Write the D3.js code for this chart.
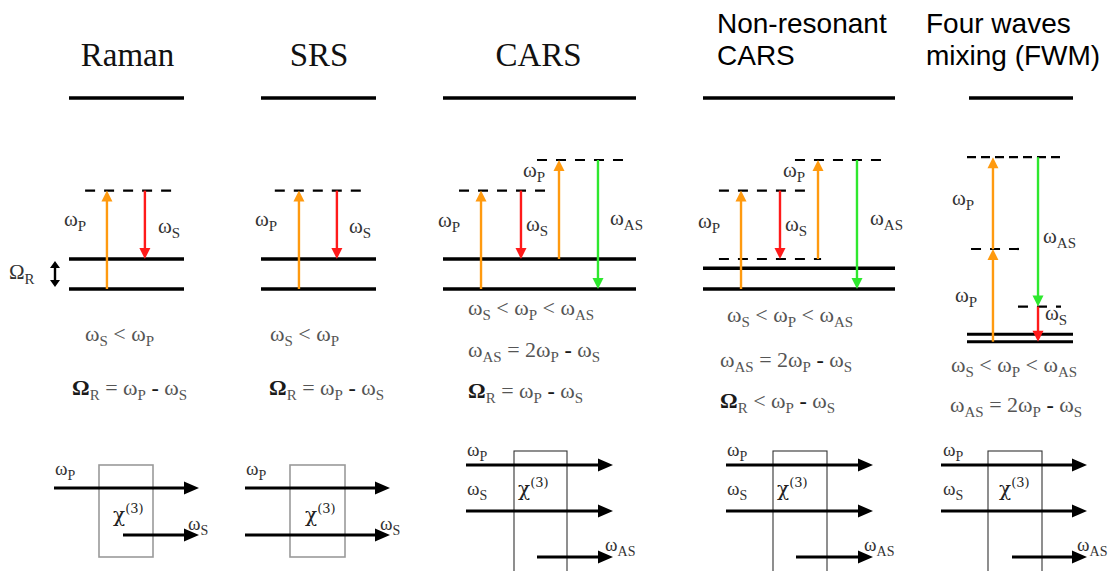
<!DOCTYPE html>
<html>
<head>
<meta charset="utf-8">
<script src="https://cdn.jsdelivr.net/npm/d3@7"></script>
<style>
  body { margin: 0; background: #fff; }
  svg { display: block; }
</style>
</head>
<body>
<div id="chart"></div>
<script>
// ---- data ----
// panel titles
const titles = [['Raman'], ['SRS'], ['CARS'], ['Non-resonant', 'CARS'], ['Four waves', 'mixing (FWM)']];
const titleSans = [false, false, false, true, true];

// energy levels: e = energy in vibrational quanta above ground, x0/x1 = fraction of panel width
const levels = [
  { p: 0, e: 0, dash: false }, { p: 0, e: 1, dash: false }, { p: 0, e: 3.28, dash: true, x0: 0.14, x1: 0.9 },
  { p: 1, e: 0, dash: false }, { p: 1, e: 1, dash: false }, { p: 1, e: 3.28, dash: true, x0: 0.12, x1: 0.89 },
  { p: 2, e: 0, dash: false }, { p: 2, e: 1, dash: false },
  { p: 2, e: 3.28, dash: true, x0: 0.083, x1: 0.539 }, { p: 2, e: 4.3, dash: true, x0: 0.487, x1: 0.933 },
  { p: 3, e: 0, dash: false }, { p: 3, e: 0.69, dash: false },
  { p: 3, e: 1, dash: true, x0: 0.083, x1: 0.615 },
  { p: 3, e: 3.28, dash: true, x0: 0.083, x1: 0.536 }, { p: 3, e: 4.3, dash: true, x0: 0.479, x1: 0.932 },
  { p: 4, e: 0, dash: false, thin: true }, { p: 4, e: 0.25, dash: false, thin: true },
  { p: 4, e: 1.17, dash: true, x0: 0.481, x1: 0.887 },
  { p: 4, e: 3.09, dash: true, x0: 0.038, x1: 0.509 },
  { p: 4, e: 6.15, dash: true, x0: 0, x1: 0.896, dense: true }
];

// transitions: beam, start energy, end energy, x = fraction of panel width
const transitions = [
  { p: 0, beam: 'P', from: 0, to: 3.28, x: 0.33 }, { p: 0, beam: 'S', from: 3.28, to: 1, x: 0.66 },
  { p: 1, beam: 'P', from: 0, to: 3.28, x: 0.33 }, { p: 1, beam: 'S', from: 3.28, to: 1, x: 0.66 },
  { p: 2, beam: 'P', from: 0, to: 3.28, x: 0.197 }, { p: 2, beam: 'S', from: 3.28, to: 1, x: 0.404 },
  { p: 2, beam: 'P', from: 1, to: 4.3, x: 0.601 }, { p: 2, beam: 'AS', from: 4.3, to: 0, x: 0.803 },
  { p: 3, beam: 'P', from: 0, to: 3.28, x: 0.198 }, { p: 3, beam: 'S', from: 3.28, to: 1, x: 0.401 },
  { p: 3, beam: 'P', from: 1, to: 4.3, x: 0.599 }, { p: 3, beam: 'AS', from: 4.3, to: 0, x: 0.802 },
  { p: 4, beam: 'P', from: 0, to: 3.09, x: 0.245 }, { p: 4, beam: 'P', from: 3.09, to: 6.15, x: 0.245 },
  { p: 4, beam: 'AS', from: 6.15, to: 1.17, x: 0.67 }, { p: 4, beam: 'S', from: 1.17, to: 0, x: 0.67 }
];
const beamNames = ['P', 'S', 'AS'];
const beamColors = ['#ff9a0f', '#ff1a1a', '#2ee82e'];

// labels beside the transitions
const arrowLabels = [
  { t: 'ω_{P}', x: 64, y: 226 }, { t: 'ω_{S}', x: 158, y: 233 }, { t: 'Ω_{R}', x: 9, y: 279 },
  { t: 'ω_{P}', x: 255, y: 226 }, { t: 'ω_{S}', x: 349, y: 233 },
  { t: 'ω_{P}', x: 438, y: 227 }, { t: 'ω_{S}', x: 526, y: 231 }, { t: 'ω_{P}', x: 523, y: 177 }, { t: 'ω_{AS}', x: 610, y: 225 },
  { t: 'ω_{P}', x: 698, y: 228 }, { t: 'ω_{S}', x: 785, y: 231 }, { t: 'ω_{P}', x: 783, y: 177 }, { t: 'ω_{AS}', x: 870, y: 225 },
  { t: 'ω_{P}', x: 952, y: 205 }, { t: 'ω_{P}', x: 955, y: 302 }, { t: 'ω_{AS}', x: 1043, y: 243 }, { t: 'ω_{S}', x: 1045, y: 320 }
];

// frequency relations under each diagram
const relations = [
  { t: 'ω_{S} < ω_{P}', x: 85, y: 341 }, { t: 'Ω_{R} = ω_{P} - ω_{S}', x: 72, y: 395 },
  { t: 'ω_{S} < ω_{P}', x: 270, y: 341 }, { t: 'Ω_{R} = ω_{P} - ω_{S}', x: 269, y: 395 },
  { t: 'ω_{S} < ω_{P} < ω_{AS}', x: 468, y: 315 }, { t: 'ω_{AS} = 2ω_{P} - ω_{S}', x: 468, y: 357 }, { t: 'Ω_{R} = ω_{P} - ω_{S}', x: 468, y: 398 },
  { t: 'ω_{S} < ω_{P} < ω_{AS}', x: 727, y: 322 }, { t: 'ω_{AS} = 2ω_{P} - ω_{S}', x: 720, y: 367 }, { t: 'Ω_{R} < ω_{P} - ω_{S}', x: 720, y: 408 },
  { t: 'ω_{S} < ω_{P} < ω_{AS}', x: 951, y: 372 }, { t: 'ω_{AS} = 2ω_{P} - ω_{S}', x: 950, y: 412 }
];

// beam geometry of the chi(3) sketches: beam, y, start, end, label position
const beams = [
  { p: 0, b: 'P', y: 488, x0: 54, x1: 199, lx: 55, ly: 475 }, { p: 0, b: 'S', y: 535, x0: 123, x1: 199, lx: 188, ly: 530 },
  { p: 1, b: 'P', y: 488, x0: 245, x1: 390, lx: 246, ly: 475 }, { p: 1, b: 'S', y: 535, x0: 245, x1: 390, lx: 380, ly: 530 },
  { p: 2, b: 'P', y: 465, x0: 466, x1: 613, lx: 467, ly: 456 }, { p: 2, b: 'S', y: 511, x0: 466, x1: 613, lx: 467, ly: 495 },
  { p: 2, b: 'AS', y: 557, x0: 537, x1: 613, lx: 605, ly: 551 },
  { p: 3, b: 'P', y: 465, x0: 726, x1: 873, lx: 727, ly: 456 }, { p: 3, b: 'S', y: 511, x0: 726, x1: 873, lx: 727, ly: 495 },
  { p: 3, b: 'AS', y: 557, x0: 796, x1: 873, lx: 864, ly: 551 },
  { p: 4, b: 'P', y: 465, x0: 941, x1: 1087, lx: 943, ly: 456 }, { p: 4, b: 'S', y: 511, x0: 941, x1: 1087, lx: 943, ly: 495 },
  { p: 4, b: 'AS', y: 557, x0: 1012, x1: 1087, lx: 1077, ly: 551 }
];
const boxes = [
  { p: 0, x0: 99, x1: 153, y0: 465, y1: 557, chiX: 113, chiY: 522 },
  { p: 1, x0: 290, x1: 345, y0: 465, y1: 557, chiX: 305, chiY: 522 },
  { p: 2, x0: 514, x1: 567, y0: 451, y1: 580, chiX: 518, chiY: 496 },
  { p: 3, x0: 773, x1: 827, y0: 451, y1: 580, chiX: 777, chiY: 496 },
  { p: 4, x0: 988, x1: 1042, y0: 451, y1: 580, chiX: 999, chiY: 496 }
];

// ---- layout ----
const width = 1114, height = 571;
const panelLeft = [69, 261, 443, 703, 967];
const panelRight = [184, 376, 636, 895, 1073];
const groundY = [289, 289, 289, 289, 341.7];
const quantum = 30;
const topLineY = 98;
const serif = "'Liberation Serif', 'Times New Roman', serif";
const sans = "'Liberation Sans', Arial, sans-serif";

const svg = d3.select('#chart').append('svg')
  .attr('width', width)
  .attr('height', height)
  .attr('viewBox', `0 0 ${width} ${height}`);

const color = d3.scaleOrdinal().domain(beamNames).range(beamColors);
const xPanel = panelLeft.map((l, i) => d3.scaleLinear().domain([0, 1]).range([l, panelRight[i]]));
const yPanel = groundY.map(g => d3.scaleLinear().domain([0, 1]).range([g, g - quantum]));

// rich text: "ω_{S}" -> omega with subscript S, "χ^{(3)}" -> superscript
function rich(sel, str, x, y, size, subSize, fill, boldOps) {
  const t = sel.append('text')
    .attr('x', x).attr('y', y)
    .attr('font-family', serif)
    .attr('font-size', size)
    .attr('fill', fill);
  const parts = str.match(/(_\{[^}]*\}|\^\{[^}]*\}|[Ω\-]|[^_^Ω\-]+)/g);
  parts.forEach(s => {
    if (s.startsWith('_{')) {
      t.append('tspan').attr('y', y + subSize * 0.35).attr('font-size', subSize).text(s.slice(2, -1));
    } else if (s.startsWith('^{')) {
      t.append('tspan').attr('y', y - size * 0.42).attr('font-size', subSize).text(s.slice(2, -1));
    } else {
      const sp = t.append('tspan').attr('y', y).text(s);
      if (boldOps && (s === 'Ω' || s === '-')) sp.attr('font-weight', 'bold').attr('fill', '#1a1a1a');
    }
  });
  return t;
}

// titles
titles.forEach((lines, i) => {
  if (titleSans[i]) {
    const x = i === 3 ? 717 : 926;
    lines.forEach((ln, j) => {
      svg.append('text')
        .attr('x', x).attr('y', 33 + j * 32)
        .attr('font-family', sans).attr('font-size', 28)
        .attr('fill', '#000')
        .text(ln);
    });
  } else {
    svg.append('text')
      .attr('x', i === 1 ? 319 : (panelLeft[i] + panelRight[i]) / 2 + (i === 0 ? 1 : -1))
      .attr('y', 66)
      .attr('text-anchor', 'middle')
      .attr('font-family', serif).attr('font-size', 33)
      .attr('fill', '#111')
      .text(lines[0]);
  }
});

// upper electronic level
svg.selectAll('.top-line')
  .data(panelLeft)
  .enter().append('line')
  .attr('class', 'top-line')
  .attr('x1', (d, i) => i === 4 ? 969 : d)
  .attr('x2', (d, i) => panelRight[i])
  .attr('y1', topLineY).attr('y2', topLineY)
  .attr('stroke', '#000').attr('stroke-width', 3.5);

// energy levels
svg.selectAll('.level')
  .data(levels)
  .enter().append('line')
  .attr('class', 'level')
  .attr('x1', d => xPanel[d.p](d.dash ? d.x0 : 0))
  .attr('x2', d => xPanel[d.p](d.dash ? d.x1 : 1))
  .attr('y1', d => yPanel[d.p](d.e))
  .attr('y2', d => yPanel[d.p](d.e))
  .attr('stroke', '#000')
  .attr('stroke-width', d => d.dash ? 2.2 : (d.thin ? 3 : 3.5))
  .attr('stroke-dasharray', d => d.dash ? (d.dense ? '9,5' : '10,9') : null);

// transition arrows
const arrowG = svg.selectAll('.transition')
  .data(transitions)
  .enter().append('g')
  .attr('class', 'transition');

const headLen = 11, headHalf = 5.5;
arrowG.append('line')
  .attr('x1', d => xPanel[d.p](d.x))
  .attr('x2', d => xPanel[d.p](d.x))
  .attr('y1', d => yPanel[d.p](d.from))
  .attr('y2', d => {
    const y1 = yPanel[d.p](d.to);
    return y1 + (yPanel[d.p](d.from) > y1 ? headLen - 1 : -(headLen - 1));
  })
  .attr('stroke', d => color(d.beam))
  .attr('stroke-width', 2.4);

arrowG.append('path')
  .attr('d', d => {
    const x = xPanel[d.p](d.x);
    const tip = yPanel[d.p](d.to);
    const dir = yPanel[d.p](d.from) > tip ? 1 : -1;
    const base = tip + dir * headLen;
    return `M${x},${tip}L${x - headHalf},${base}L${x + headHalf},${base}Z`;
  })
  .attr('fill', d => color(d.beam));

// Raman shift double arrow
const dbl = svg.append('g');
dbl.append('line')
  .attr('x1', 55).attr('x2', 55)
  .attr('y1', yPanel[0](1) + 5).attr('y2', yPanel[0](0) - 5)
  .attr('stroke', '#000').attr('stroke-width', 2.4);
dbl.append('path')
  .attr('d', `M55,${yPanel[0](1) + 2}L50,${yPanel[0](1) + 9}L60,${yPanel[0](1) + 9}Z` +
             `M55,${yPanel[0](0) - 2}L50,${yPanel[0](0) - 9}L60,${yPanel[0](0) - 9}Z`)
  .attr('fill', '#000');

// labels
arrowLabels.forEach(d => rich(svg, d.t, d.x, d.y, 21, 15, '#333', false));
relations.forEach(d => rich(svg, d.t, d.x, d.y, 22, 15, '#555', true));

// chi(3) sketches
boxes.forEach(b => {
  svg.append('rect')
    .attr('x', b.x0).attr('y', b.y0)
    .attr('width', b.x1 - b.x0).attr('height', b.y1 - b.y0)
    .attr('fill', 'none')
    .attr('stroke', b.p < 2 ? '#9a9a9a' : '#333')
    .attr('stroke-width', b.p < 2 ? 1.6 : 1.1);
  rich(svg, 'χ^{(3)}', b.chiX, b.chiY, 22, 13, '#222', false).attr('font-family', "'DejaVu Serif', serif").attr('font-size', 20);
});

svg.selectAll('.beam')
  .data(beams)
  .enter().append('line')
  .attr('class', 'beam')
  .attr('x1', d => d.x0).attr('x2', d => d.x1 - 12)
  .attr('y1', d => d.y).attr('y2', d => d.y)
  .attr('stroke', '#000').attr('stroke-width', 3);

svg.selectAll('.beam-head')
  .data(beams)
  .enter().append('path')
  .attr('class', 'beam-head')
  .attr('d', d => `M${d.x1},${d.y}L${d.x1 - 15},${d.y - 6.5}L${d.x1 - 15},${d.y + 6.5}Z`)
  .attr('fill', '#000');

beams.forEach(d => rich(svg, `ω_{${d.b}}`, d.lx, d.ly, 19, 14, '#333', false));
</script>
</body>
</html>
